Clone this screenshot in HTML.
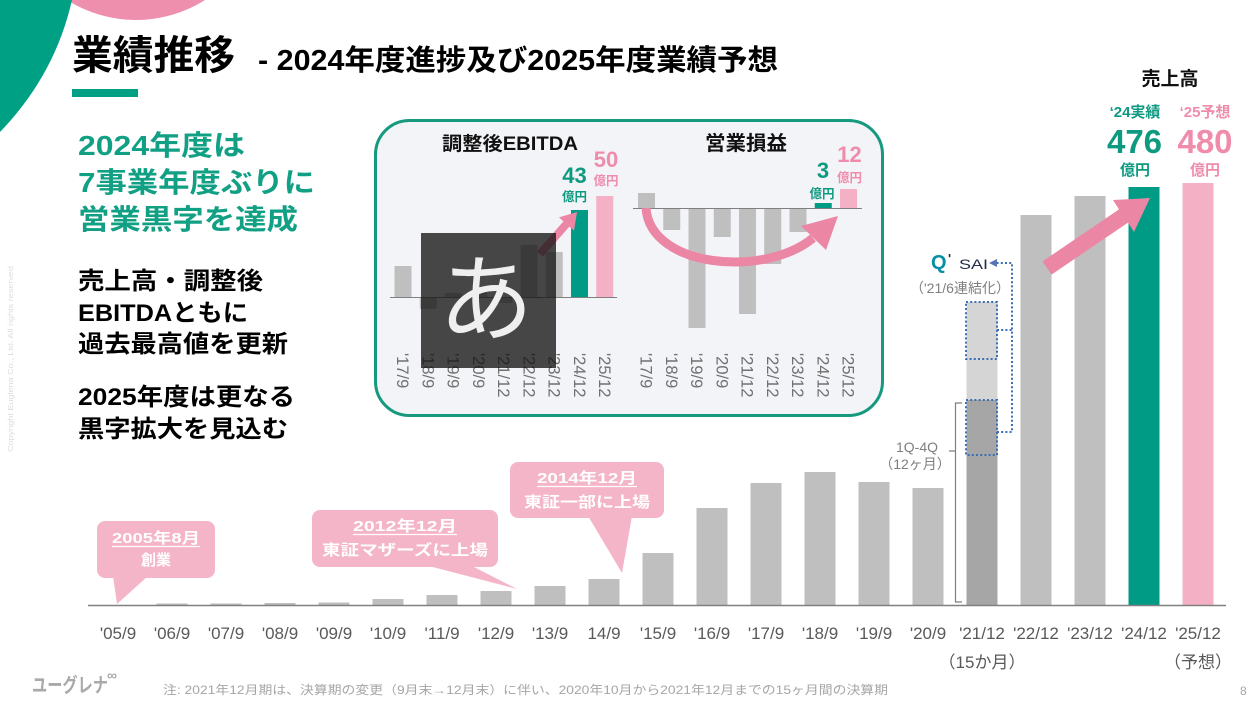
<!DOCTYPE html>
<html><head><meta charset="utf-8"><style>
html,body{margin:0;padding:0;background:#fff;}
svg{display:block;}
text{font-family:"Liberation Sans","Noto Sans CJK JP",sans-serif;}
</style></head><body>
<svg width="1260" height="709" viewBox="0 0 1260 709" xmlns="http://www.w3.org/2000/svg">
<rect width="1260" height="709" fill="#fff"/>
<!-- decorations -->
<circle cx="136" cy="-109" r="129" fill="#ef8fae"/>
<path d="M0,0 L72,0 Q55,75 0,132 Z" fill="#00a085"/>
<text transform="translate(13,452) rotate(-90)" font-size="7.5" fill="#dcdcdc" textLength="186" lengthAdjust="spacingAndGlyphs">Copyright Euglena Co., Ltd. All rights reserved</text>

<!-- title -->
<text x="72" y="69" font-size="40" font-weight="bold" fill="#000" textLength="163" lengthAdjust="spacingAndGlyphs">業績推移</text>
<text x="258" y="70" font-size="29" font-weight="bold" fill="#000" textLength="520" lengthAdjust="spacingAndGlyphs">- 2024年度進捗及び2025年度業績予想</text>
<rect x="72" y="89" width="66" height="8" fill="#00a085"/>

<!-- left texts -->
<g font-weight="bold" fill="#12a085">
<text x="78" y="155" font-size="28" textLength="167" lengthAdjust="spacingAndGlyphs">2024年度は</text>
<text x="78" y="192" font-size="28" textLength="237" lengthAdjust="spacingAndGlyphs">7事業年度ぶりに</text>
<text x="78" y="229" font-size="28" textLength="220" lengthAdjust="spacingAndGlyphs">営業黒字を達成</text>
</g>
<g font-weight="bold" fill="#000" font-size="24">
<text x="78" y="289" textLength="185" lengthAdjust="spacingAndGlyphs">売上高・調整後</text>
<text x="78" y="321" textLength="170" lengthAdjust="spacingAndGlyphs">EBITDAともに</text>
<text x="78" y="352" textLength="210" lengthAdjust="spacingAndGlyphs">過去最高値を更新</text>
<text x="78" y="405" textLength="217" lengthAdjust="spacingAndGlyphs">2025年度は更なる</text>
<text x="78" y="437" textLength="210" lengthAdjust="spacingAndGlyphs">黒字拡大を見込む</text>
</g>

<!-- inset box -->
<rect x="375.5" y="120.5" width="507" height="295" rx="34" fill="#f3f4f8" stroke="#16997f" stroke-width="3"/>
<text x="510" y="150" font-size="19" font-weight="bold" fill="#111" text-anchor="middle" textLength="136" lengthAdjust="spacingAndGlyphs">調整後EBITDA</text>
<text x="746" y="150" font-size="20" font-weight="bold" fill="#111" text-anchor="middle" textLength="82" lengthAdjust="spacingAndGlyphs">営業損益</text>

<!-- left inset bars -->
<g fill="#bfbfbf">
<rect x="394.5" y="266" width="17" height="31"/>
<rect x="419.75" y="297" width="17" height="12"/>
<rect x="444.75" y="293" width="17" height="4"/>
<rect x="470" y="292" width="17" height="5"/>
<rect x="495.25" y="297" width="17" height="6"/>
<rect x="520.5" y="245" width="17" height="52"/>
<rect x="545.75" y="252" width="17" height="45"/>
</g>
<rect x="571" y="210" width="17" height="87" fill="#009b84"/>
<rect x="596.25" y="196" width="17" height="101" fill="#f4b0c5"/>
<line x1="390" y1="297.5" x2="617" y2="297.5" stroke="#7f7f7f" stroke-width="1"/>
<polygon points="537,251.4 563.4,221.4 559,217.4 577,212 574,230.6 569.4,226.6 543,256.6" fill="#ec86a5"/>
<text x="574.5" y="183" font-size="22" font-weight="bold" fill="#0e9a80" text-anchor="middle">43</text>
<text x="574.5" y="201" font-size="12.5" font-weight="bold" fill="#0e9a80" text-anchor="middle">億円</text>
<text x="606" y="167" font-size="22" font-weight="bold" fill="#f08cab" text-anchor="middle">50</text>
<text x="606" y="185" font-size="12.5" font-weight="bold" fill="#f08cab" text-anchor="middle">億円</text>

<!-- right inset bars -->
<g fill="#bfbfbf">
<rect x="638" y="193" width="17" height="15"/>
<rect x="663.25" y="208" width="17" height="22"/>
<rect x="688.5" y="208" width="17" height="120"/>
<rect x="713.75" y="208" width="17" height="29"/>
<rect x="739" y="208" width="17" height="106"/>
<rect x="764.25" y="208" width="17" height="56"/>
<rect x="789.5" y="208" width="17" height="24"/>
</g>
<rect x="814.75" y="203" width="17" height="5" fill="#009b84"/>
<rect x="840" y="189" width="17" height="19" fill="#f4b0c5"/>
<line x1="633" y1="208.5" x2="862" y2="208.5" stroke="#7f7f7f" stroke-width="1"/>
<path d="M646,208 C650,268 765,278 813,238" fill="none" stroke="#ec86a5" stroke-width="9"/>
<polygon points="838,216 801,226 826,250" fill="#ec86a5"/>
<text x="823" y="178" font-size="22" font-weight="bold" fill="#0e9a80" text-anchor="middle">3</text>
<text x="822" y="198" font-size="12.5" font-weight="bold" fill="#0e9a80" text-anchor="middle">億円</text>
<text x="849.5" y="162" font-size="22" font-weight="bold" fill="#f08cab" text-anchor="middle">12</text>
<text x="849.5" y="182" font-size="12.5" font-weight="bold" fill="#f08cab" text-anchor="middle">億円</text>

<!-- inset rotated labels -->
<g font-size="16.5" fill="#707070">
<text transform="translate(397,353) rotate(90)">'17/9</text>
<text transform="translate(422.25,353) rotate(90)">'18/9</text>
<text transform="translate(447.5,353) rotate(90)">'19/9</text>
<text transform="translate(472.75,353) rotate(90)">'20/9</text>
<text transform="translate(498,353) rotate(90)">'21/12</text>
<text transform="translate(523.25,353) rotate(90)">'22/12</text>
<text transform="translate(548.5,353) rotate(90)">'23/12</text>
<text transform="translate(573.75,353) rotate(90)">'24/12</text>
<text transform="translate(599,353) rotate(90)">'25/12</text>
<text transform="translate(640.5,353) rotate(90)">'17/9</text>
<text transform="translate(665.75,353) rotate(90)">'18/9</text>
<text transform="translate(691,353) rotate(90)">'19/9</text>
<text transform="translate(716.25,353) rotate(90)">'20/9</text>
<text transform="translate(741.5,353) rotate(90)">'21/12</text>
<text transform="translate(766.75,353) rotate(90)">'22/12</text>
<text transform="translate(792,353) rotate(90)">'23/12</text>
<text transform="translate(817.25,353) rotate(90)">'24/12</text>
<text transform="translate(842.5,353) rotate(90)">'25/12</text>
</g>

<!-- IME overlay -->
<rect x="421" y="233" width="135" height="135" fill="rgb(20,20,20)" fill-opacity="0.78"/>
<text x="486" y="333" font-size="95" fill="#efefef" text-anchor="middle" style="font-family:'Noto Sans CJK JP',sans-serif">あ</text>

<!-- main bars -->
<g fill="#bfbfbf">
<rect x="156.5" y="603.5" width="31" height="1.5"/>
<rect x="210.5" y="603.5" width="31" height="1.5"/>
<rect x="264.5" y="603" width="31" height="2"/>
<rect x="318.5" y="602.5" width="31" height="2.5"/>
<rect x="372.5" y="599" width="31" height="6"/>
<rect x="426.5" y="595" width="31" height="10"/>
<rect x="480.5" y="591" width="31" height="14"/>
<rect x="534.5" y="586" width="31" height="19"/>
<rect x="588.5" y="579" width="31" height="26"/>
<rect x="642.5" y="553" width="31" height="52"/>
<rect x="696.5" y="508" width="31" height="97"/>
<rect x="750.5" y="483" width="31" height="122"/>
<rect x="804.5" y="472" width="31" height="133"/>
<rect x="858.5" y="482" width="31" height="123"/>
<rect x="912.5" y="488" width="31" height="117"/>
<rect x="1020.5" y="215" width="31" height="390"/>
<rect x="1074.5" y="196" width="31" height="409"/>
</g>
<rect x="966.5" y="302" width="31" height="98" fill="#d5d5d5"/>
<rect x="966.5" y="400" width="31" height="205" fill="#a6a6a6"/>
<rect x="1128.5" y="187" width="31" height="418" fill="#009b84"/>
<rect x="1182.5" y="183" width="31" height="422" fill="#f4b0c5"/>
<line x1="88" y1="605.5" x2="1226" y2="605.5" stroke="#808080" stroke-width="1.5"/>

<!-- dotted boxes & connectors -->
<g fill="none" stroke="#3a6fb5" stroke-width="2" stroke-dasharray="2 2.2">
<rect x="966" y="302" width="31" height="57"/>
<rect x="966" y="400" width="31" height="55"/>
<path d="M997,330 L1012,330"/>
<path d="M997,432 L1012,432 L1012,263 L996,263"/>
</g>
<polygon points="989,263 997,259 997,267" fill="#5873b8"/>

<!-- bracket -->
<path d="M962,403 L955.5,403 L955.5,602 L962,602 M955.5,451 L949,451" fill="none" stroke="#7f7f7f" stroke-width="1.2"/>
<text x="917" y="452" font-size="14" fill="#7f7f7f" text-anchor="middle">1Q-4Q</text>
<text x="915" y="469" font-size="14" fill="#7f7f7f" text-anchor="middle">（12ヶ月）</text>

<!-- QSAI -->
<text x="931" y="269" font-size="20" font-weight="bold" fill="#0a8ea5">Q</text>
<text x="948" y="263" font-size="13" font-weight="bold" fill="#1f2a44">'</text>
<text x="959" y="269" font-size="14" fill="#1f2a44" textLength="29" lengthAdjust="spacingAndGlyphs">SAI</text>
<text x="960" y="293" font-size="14" fill="#7f7f7f" text-anchor="middle" textLength="100" lengthAdjust="spacingAndGlyphs">（'21/6連結化）</text>

<!-- main arrow -->
<polygon points="1042.5,261.4 1119,209.4 1113,200 1150,198 1134,232 1128,222.6 1051.5,274.6" fill="#ec86a5"/>

<!-- top right labels -->
<text x="1170" y="85" font-size="19" font-weight="bold" fill="#111" text-anchor="middle">売上高</text>
<text x="1135" y="117" font-size="15" font-weight="bold" fill="#0e9a80" text-anchor="middle">‘24実績</text>
<text x="1205" y="117" font-size="15" font-weight="bold" fill="#f08cab" text-anchor="middle">‘25予想</text>
<text x="1134.5" y="153" font-size="33" font-weight="bold" fill="#0e9a80" text-anchor="middle">476</text>
<text x="1205" y="153" font-size="33" font-weight="bold" fill="#f08cab" text-anchor="middle">480</text>
<text x="1135" y="175" font-size="15" font-weight="bold" fill="#0e9a80" text-anchor="middle">億円</text>
<text x="1205" y="175" font-size="15" font-weight="bold" fill="#f08cab" text-anchor="middle">億円</text>

<!-- callouts -->
<g fill="#f5b5c8">
<rect x="97" y="521" width="118" height="57" rx="8"/>
<polygon points="113,576 148,576 117,604"/>
<rect x="312" y="510" width="186" height="57" rx="8"/>
<polygon points="425,565 470,565 517,589"/>
<rect x="510" y="462" width="154" height="56" rx="8"/>
<polygon points="588,516 632,516 622,573"/>
</g>
<g font-size="15" font-weight="bold" fill="#fff" text-anchor="middle">
<text x="156" y="543" textLength="88" lengthAdjust="spacingAndGlyphs">2005年8月</text>
<text x="156" y="565">創業</text>
<text x="405" y="531" textLength="104" lengthAdjust="spacingAndGlyphs">2012年12月</text>
<text x="405" y="555" textLength="166" lengthAdjust="spacingAndGlyphs">東証マザーズに上場</text>
<text x="587" y="483" textLength="100" lengthAdjust="spacingAndGlyphs">2014年12月</text>
<text x="587" y="507" textLength="126" lengthAdjust="spacingAndGlyphs">東証一部に上場</text>
</g>
<g stroke="#fff" stroke-width="1.3">
<line x1="112" y1="546.5" x2="200" y2="546.5"/>
<line x1="353" y1="534.5" x2="457" y2="534.5"/>
<line x1="537" y1="486.5" x2="637" y2="486.5"/>
</g>

<!-- x labels -->
<g font-size="17" fill="#595959" text-anchor="middle">
<text x="118" y="639">'05/9</text>
<text x="172" y="639">'06/9</text>
<text x="226" y="639">'07/9</text>
<text x="280" y="639">'08/9</text>
<text x="334" y="639">'09/9</text>
<text x="388" y="639">'10/9</text>
<text x="442" y="639">'11/9</text>
<text x="496" y="639">'12/9</text>
<text x="550" y="639">'13/9</text>
<text x="604" y="639">14/9</text>
<text x="658" y="639">'15/9</text>
<text x="712" y="639">'16/9</text>
<text x="766" y="639">'17/9</text>
<text x="820" y="639">'18/9</text>
<text x="874" y="639">'19/9</text>
<text x="928" y="639">'20/9</text>
<text x="982" y="639">'21/12</text>
<text x="1036" y="639">'22/12</text>
<text x="1090" y="639">'23/12</text>
<text x="1144" y="639">'24/12</text>
<text x="1198" y="639">'25/12</text>
<text x="982" y="668">（15か月）</text>
<text x="1198" y="668">（予想）</text>
</g>

<!-- footer -->
<text x="32" y="692" font-size="20" font-weight="bold" fill="#a9a9a9" textLength="76" lengthAdjust="spacingAndGlyphs">ユーグレナ</text>
<text x="107" y="680" font-size="14" font-weight="bold" fill="#a9a9a9">∞</text>
<text x="163" y="694" font-size="12" fill="#a6a6a6" textLength="725" lengthAdjust="spacingAndGlyphs">注: 2021年12月期は、決算期の変更（9月末→12月末）に伴い、2020年10月から2021年12月までの15ヶ月間の決算期</text>
<text x="1240" y="695" font-size="12" fill="#a6a6a6">8</text>
</svg>
</body></html>
